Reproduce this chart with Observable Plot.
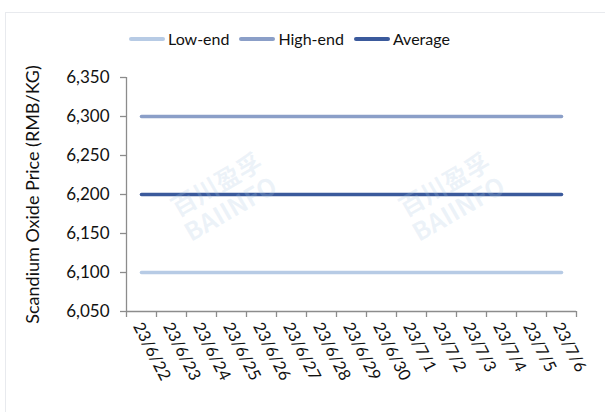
<!DOCTYPE html>
<html>
<head>
<meta charset="utf-8">
<script src="https://cdn.jsdelivr.net/npm/d3@7"></script>
<script src="https://cdn.jsdelivr.net/npm/@observablehq/plot@0.6"></script>
<style>
  html, body { margin: 0; padding: 0; background: #fff; }
  #wrap { position: relative; width: 605px; height: 412px; overflow: hidden; font-family: Lato, "Open Sans", sans-serif; }
  #frame { position: absolute; left: 5px; top: 12px; width: 640px; height: 440px; border: 1px solid #e8eaee; }
  #legend { position: absolute; top: 29px; left: 129px; display: flex; align-items: center; font-size: 16px; color: #111; white-space: nowrap; }
  .item { display: flex; align-items: center; margin-right: 10px; }
  .sw { width: 36px; height: 4px; border-radius: 2px; margin-right: 3px; }
  .wm { position: absolute; color: rgba(170,200,225,0.22); font-weight: bold; text-align: center; line-height: 1.1; transform: rotate(-30deg); font-family: "Noto Sans CJK SC", sans-serif; }
  #chart { position: absolute; left: 0; top: 0; }
</style>
</head>
<body>
<div id="wrap">
  <div id="frame"></div>
  <div id="chart"></div>
  <div class="wm" style="left:172px; top:168px; font-size:25px;">百川盈孚<br>BAIINFO</div>
  <div class="wm" style="left:400px; top:168px; font-size:25px;">百川盈孚<br>BAIINFO</div>
  <div id="legend"></div>
</div>
<script>
const dates = ["23/6/22","23/6/23","23/6/24","23/6/25","23/6/26","23/6/27","23/6/28","23/6/29","23/6/30","23/7/1","23/7/2","23/7/3","23/7/4","23/7/5","23/7/6"];
const lowEnd  = [6100,6100,6100,6100,6100,6100,6100,6100,6100,6100,6100,6100,6100,6100,6100];
const highEnd = [6300,6300,6300,6300,6300,6300,6300,6300,6300,6300,6300,6300,6300,6300,6300];
const average = [6200,6200,6200,6200,6200,6200,6200,6200,6200,6200,6200,6200,6200,6200,6200];
const seriesNames = ["Low-end","High-end","Average"];
const seriesColors = ["#b7cbe5","#8b9fc8","#3b5a9c"];
const yTicks = [6050,6100,6150,6200,6250,6300,6350];
const yLabel = "Scandium Oxide Price (RMB/KG)";

const seriesValues = [lowEnd, highEnd, average];
const rows = [];
seriesNames.forEach((s, k) => seriesValues[k].forEach((v, i) => rows.push({series: s, i, date: dates[i], value: v})));
const cats = dates.map((d, i) => ({i, date: d}));
const boundaries = d3.range(-0.5, dates.length, 1);

const fmt = d3.format(",");
const axisColor = "#8c8c8c";

const plot = Plot.plot({
  width: 605,
  height: 412,
  marginTop: 77,
  marginBottom: 101,
  marginLeft: 126,
  marginRight: 29,
  style: {fontFamily: "Lato, 'Open Sans', sans-serif", fontSize: "16px", color: "#111", background: "transparent"},
  x: {type: "linear", domain: [-0.5, dates.length - 0.5], axis: null},
  y: {type: "linear", domain: [6050, 6350], axis: null},
  color: {domain: seriesNames, range: seriesColors},
  marks: [
    Plot.ruleY([6050], {stroke: axisColor, strokeWidth: 1.3}),
    Plot.ruleX([-0.5], {stroke: axisColor, strokeWidth: 1.3}),
    Plot.axisX({ticks: boundaries, tickFormat: () => "", tickSize: 6, stroke: axisColor, strokeWidth: 1.3, label: null}),
    Plot.axisY({ticks: yTicks, tickFormat: fmt, tickSize: 6, tickPadding: 11, stroke: axisColor, strokeWidth: 1.3, fill: "#111", fontSize: 17, label: null}),
    Plot.line(rows, {x: "i", y: "value", z: "series", stroke: "series", strokeWidth: 3.6, strokeLinecap: "round"}),
    Plot.text(cats, {x: "i", y: 6050, text: "date", rotate: 63, textAnchor: "start", dx: -4, dy: 12, fontSize: 16.5, fill: "#111"}),
    Plot.text([yLabel], {frameAnchor: "left", textAnchor: "middle", dx: -93, rotate: -90, text: d => d, fontSize: 18, fill: "#111"})
  ]
});
document.getElementById("chart").appendChild(plot);

const legend = document.getElementById("legend");
seriesNames.forEach((s, k) => {
  const it = document.createElement("div");
  it.className = "item";
  it.innerHTML = `<span class="sw" style="background:${seriesColors[k]}"></span><span>${s}</span>`;
  legend.appendChild(it);
});
</script>
</body>
</html>
